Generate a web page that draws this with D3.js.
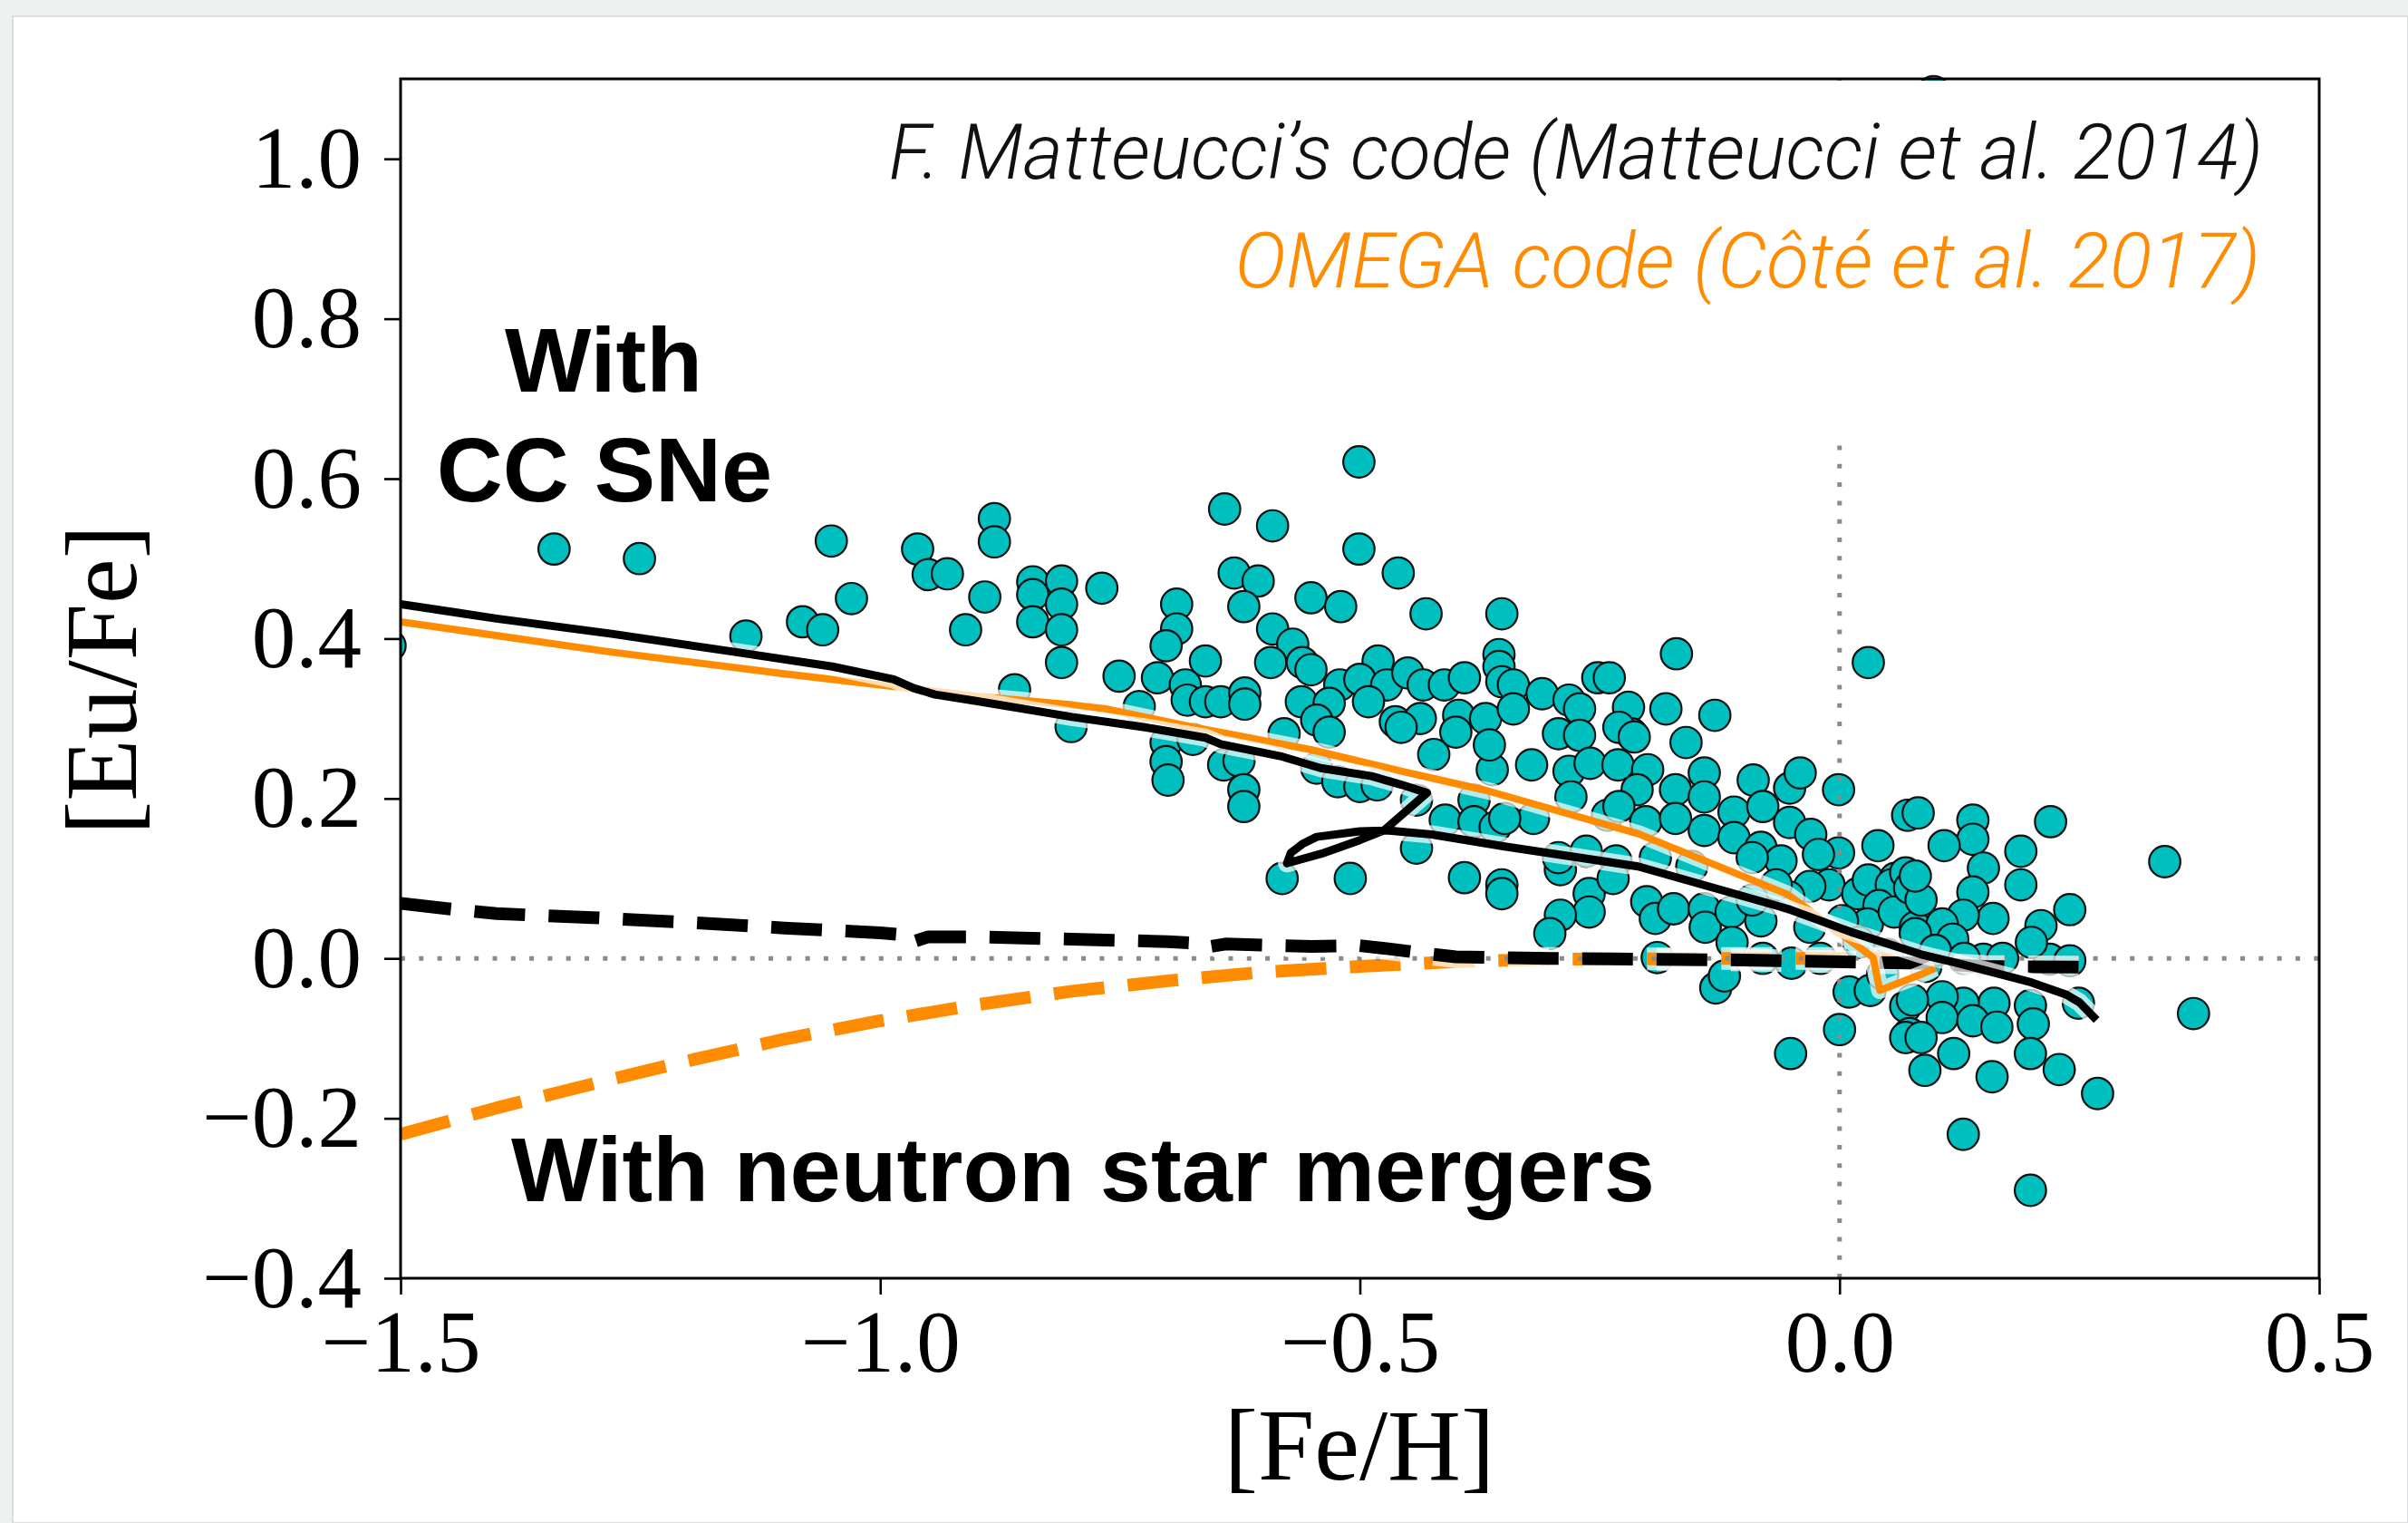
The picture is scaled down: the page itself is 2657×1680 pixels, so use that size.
<!DOCTYPE html>
<html>
<head>
<meta charset="utf-8">
<script src="https://cdn.jsdelivr.net/npm/d3@7"></script>
<style>
  html, body { margin: 0; padding: 0; background: #eff1f1; }
  svg { display: block; }
</style>
</head>
<body>
<svg id="chart" width="2657" height="1680"></svg>
<script>
// axis ticks
const xTicks = [-1.5, -1.0, -0.5, 0.0, 0.5];
const yTicks = [-0.4, -0.2, 0.0, 0.2, 0.4, 0.6, 0.8, 1.0];

// observed stars, [Fe/H] and [Eu/Fe]
const stars = [
  [-1.511,0.391],[-1.340,0.512],[-1.251,0.500],[-1.140,0.403],[-1.081,0.421],[-1.060,0.411],
  [-1.051,0.522],[-1.030,0.450],[-0.961,0.512],[-0.950,0.480],[-0.930,0.481],[-0.911,0.411],
  [-0.881,0.550],[-0.881,0.521],[-0.891,0.452],[-0.860,0.336],[-0.841,0.471],[-0.841,0.455],
  [-0.841,0.421],[-0.811,0.472],[-0.811,0.443],[-0.811,0.411],[-0.811,0.370],[-0.801,0.290],
  [-0.769,0.463],
  [-0.501,0.621],[-0.641,0.562],[-0.591,0.541],[-0.501,0.512],[-0.460,0.482],[-0.691,0.443],
  [-0.691,0.412],[-0.702,0.391],[-0.631,0.482],[-0.606,0.472],[-0.621,0.440],[-0.551,0.451],
  [-0.520,0.440],[-0.431,0.431],[-0.352,0.431],[-0.591,0.412],[-0.570,0.393],[-0.593,0.370],
  [-0.560,0.370],[-0.551,0.361],[-0.661,0.372],[-0.751,0.353],[-0.711,0.351],[-0.682,0.342],
  [-0.680,0.323],[-0.661,0.321],[-0.645,0.321],[-0.620,0.332],[-0.620,0.318],[-0.730,0.315],
  [-0.481,0.372],[-0.521,0.342],[-0.500,0.349],[-0.472,0.342],[-0.450,0.357],[-0.434,0.342],
  [-0.412,0.342],[-0.391,0.351],[-0.355,0.380],[-0.355,0.365],[-0.352,0.346],[-0.561,0.321],
  [-0.532,0.319],[-0.491,0.321],[-0.463,0.296],[-0.437,0.300],[-0.397,0.304],[-0.369,0.300],
  [-0.545,0.298],
  [-0.340,0.342],[-0.340,0.312],[-0.310,0.331],[-0.282,0.323],[-0.271,0.312],[-0.252,0.351],
  [-0.240,0.351],[-0.220,0.314],[-0.181,0.312],[-0.170,0.381],[-0.130,0.304],[0.030,0.370],
  [-0.702,0.270],[-0.702,0.246],[-0.700,0.223],[-0.674,0.274],[-0.642,0.242],[-0.626,0.247],
  [-0.621,0.211],[-0.621,0.190],[-0.579,0.281],[-0.532,0.283],[-0.545,0.238],[-0.523,0.221],
  [-0.500,0.215],[-0.482,0.217],[-0.441,0.198],[-0.457,0.289],[-0.423,0.255],[-0.400,0.283],
  [-0.362,0.236],[-0.381,0.198],[-0.411,0.173],[-0.381,0.171],[-0.359,0.164],[-0.441,0.138],
  [-0.581,0.100],[-0.510,0.100],[-0.391,0.101],[-0.352,0.092],[-0.352,0.081],
  [-0.293,0.281],[-0.271,0.279],[-0.321,0.242],[-0.365,0.267],[-0.282,0.234],[-0.280,0.202],
  [-0.260,0.244],[-0.231,0.242],[-0.217,0.281],[-0.200,0.236],[-0.211,0.211],[-0.171,0.211],
  [-0.160,0.270],[-0.141,0.232],[-0.141,0.202],[-0.141,0.160],[-0.110,0.183],[-0.110,0.151],
  [-0.090,0.223],[-0.080,0.190],[-0.052,0.213],[-0.041,0.232],[-0.052,0.170],[-0.030,0.155],
  [-0.001,0.211],[-0.001,0.132],[-0.022,0.130],[0.040,0.141],[0.071,0.179],[0.082,0.182],
  [-0.082,0.139],[-0.061,0.122],[-0.011,0.092],[-0.031,0.090],[0.019,0.081],[0.030,0.098],
  [0.058,0.100],[0.060,0.077],[-0.319,0.175],[-0.349,0.175],[-0.242,0.179],[-0.230,0.190],
  [-0.202,0.171],[-0.171,0.175],[-0.291,0.111],[-0.261,0.081],[-0.261,0.058],[-0.291,0.054],
  [-0.302,0.031],[-0.201,0.071],[-0.192,0.050],[-0.173,0.062],[-0.141,0.062],[-0.140,0.039],
  [-0.113,0.058],[-0.112,0.020],[-0.082,0.047],[-0.053,0.077],[-0.031,0.039],[-0.050,-0.006],
  [-0.190,0.001],[-0.129,-0.037],[-0.120,-0.022],[0.010,-0.042],[0.032,-0.040],[0.069,-0.060],
  [0.054,0.092],[0.069,0.107],[0.041,0.066],[-0.230,0.289],[-0.214,0.277],[-0.293,0.126],
  [-0.264,0.134],[-0.233,0.122],[-0.192,0.126],[-0.154,0.115],[-0.091,0.126],[-0.066,0.092],
  [-0.091,0.073],[-0.236,0.100],[0.029,0.043],[0.003,0.047],[0.057,0.058],[0.079,0.039],
  [0.139,0.173],[0.139,0.149],[0.109,0.141],[0.220,0.171],[0.189,0.134],[0.189,0.092],
  [0.150,0.113],[0.139,0.083],[0.160,0.050],[0.129,0.054],[0.107,0.043],[0.118,0.024],
  [0.240,0.061],[0.210,0.041],[0.339,0.121],[0.369,-0.069],[0.079,0.031],[0.073,0.088],
  [0.150,-0.001],[0.219,-0.001],[0.240,-0.003],[0.249,-0.056],[0.199,-0.059],[0.161,-0.056],
  [0.129,-0.056],[0.107,-0.048],[0.076,-0.052],[0.107,-0.074],[0.139,-0.078],[0.164,-0.086],
  [0.202,-0.082],[0.073,-0.094],[0.085,0.073],[0.079,0.103],
  [-0.051,-0.119],[0.000,-0.089],[0.069,-0.099],[0.085,-0.099],[0.089,-0.140],[0.119,-0.119],
  [0.159,-0.148],[0.199,-0.119],[0.229,-0.139],[0.269,-0.169],[0.129,-0.220],[0.199,-0.290],
  [0.020,0.020],[0.050,0.005],[0.090,-0.010],[0.100,0.010],[0.045,-0.020],[0.200,0.020],
  [0.170,0.000],[0.130,0.000],[-0.020,0.000],[-0.080,0.000]
];
// one star sits right under the top spine, mostly hidden by the label box
const topStar = [0.098, 1.084];

// model tracks
const mattCC = [
  [-1.5,0.443],[-1.40,0.425],[-1.28,0.406],[-1.15,0.383],[-1.05,0.365],[-0.986,0.349],
  [-0.965,0.338],[-0.943,0.330],[-0.90,0.322],[-0.80,0.302],[-0.724,0.289],[-0.661,0.276],
  [-0.645,0.268],[-0.583,0.253],[-0.541,0.238],[-0.488,0.228],[-0.456,0.217],[-0.430,0.207],
  [-0.475,0.160],[-0.50,0.148],[-0.54,0.131],[-0.576,0.119],[-0.572,0.132],[-0.56,0.143],
  [-0.545,0.152],[-0.50,0.159],[-0.472,0.160],[-0.425,0.155],[-0.349,0.140],[-0.21,0.115],
  [-0.054,0.062],[0.012,0.033],[0.085,0.005],[0.123,-0.006],[0.20,-0.030],[0.236,-0.045],
  [0.250,-0.055],[0.268,-0.077]
];
const omegaCC = [
  [-1.5,0.421],[-1.28,0.383],[-1.10,0.356],[-0.986,0.340],[-0.90,0.328],[-0.80,0.317],
  [-0.765,0.312],[-0.677,0.290],[-0.551,0.261],[-0.456,0.234],[-0.368,0.210],[-0.21,0.156],
  [-0.054,0.080],[-0.038,0.066],[0.035,0.001],[0.042,-0.040],[0.085,-0.020],[0.10,-0.012]
];
const mattNSM = [
  [-1.5,0.069],[-1.45,0.062],[-1.40,0.056],[-1.30,0.051],[-1.20,0.045],[-1.10,0.038],
  [-1.00,0.032],[-0.98,0.030],[-0.97,0.019],[-0.95,0.027],[-0.90,0.027],[-0.80,0.024],
  [-0.70,0.021],[-0.67,0.019],[-0.66,0.014],[-0.64,0.018],[-0.55,0.015],[-0.50,0.016],
  [-0.47,0.012],[-0.43,0.006],[-0.40,0.002],[-0.30,0.000],[-0.10,-0.002],[0.085,-0.006],
  [0.15,-0.010],[0.255,-0.011]
];
const omegaNSM = [
  [-1.5,-0.220],[-1.4,-0.187],[-1.3,-0.157],[-1.2,-0.128],[-1.1,-0.101],[-1.0,-0.078],
  [-0.9,-0.058],[-0.8,-0.041],[-0.7,-0.028],[-0.6,-0.017],[-0.5,-0.010],[-0.4,-0.004],
  [-0.3,-0.001],[-0.1,0.0],[0.06,0.0]
];

const W = 2657, H = 1680;
const box = {left: 442, right: 2559, top: 87, bottom: 1410};
const teal = "#00bfbf", orange = "#ff8c00";

const svg = d3.select("#chart");

// slide frame
svg.append("rect").attr("width", W).attr("height", H).attr("fill", "#eff1f1");
svg.append("rect").attr("x", 14).attr("y", 18).attr("width", W - 14).attr("height", H - 18)
  .attr("fill", "#fff").attr("stroke", "#dadddd").attr("stroke-width", 2);

const x = d3.scaleLinear().domain([-1.5, 0.5]).range([box.left, box.right]);
const y = d3.scaleLinear().domain([-0.4, 1.1]).range([box.bottom, box.top]);

svg.append("clipPath").attr("id", "plotclip")
  .append("rect").attr("x", box.left).attr("y", box.top)
  .attr("width", box.right - box.left).attr("height", box.bottom - box.top);

const plot = svg.append("g").attr("clip-path", "url(#plotclip)");

plot.selectAll("circle.star")
  .data(stars)
  .enter().append("circle")
  .attr("class", "star")
  .attr("cx", d => x(d[0]))
  .attr("cy", d => y(d[1]))
  .attr("r", 17.3)
  .attr("fill", teal)
  .attr("stroke", "#111")
  .attr("stroke-width", 2.2);

const line = d3.line().x(d => x(d[0])).y(d => y(d[1]));

function track(data, color, width, dash) {
  plot.append("path").attr("d", line(data))
    .attr("fill", "none").attr("stroke", "#fff").attr("stroke-opacity", 0.7)
    .attr("stroke-width", width + 11).attr("stroke-linejoin", "round")
    .attr("stroke-dasharray", dash || null);
  plot.append("path").attr("d", line(data))
    .attr("fill", "none").attr("stroke", color)
    .attr("stroke-width", width).attr("stroke-linejoin", "round")
    .attr("stroke-dasharray", dash || null);
}

track(omegaNSM, orange, 14, "56 26");

// dotted reference lines at zero
plot.append("line")
  .attr("x1", box.left).attr("x2", box.right).attr("y1", y(0)).attr("y2", y(0))
  .attr("stroke", "#8a8a8a").attr("stroke-width", 5).attr("stroke-dasharray", "5 15.3");
plot.append("line")
  .attr("x1", x(0)).attr("x2", x(0)).attr("y1", box.bottom).attr("y2", box.top - 6)
  .attr("stroke", "#8a8a8a").attr("stroke-width", 5).attr("stroke-dasharray", "5 15.3");

track(mattNSM, "#000", 14, "56 26");
track(omegaCC, orange, 8);
track(mattCC, "#000", 9);

// partly hidden star at the top edge, then the white label box over the top area
svg.append("circle")
  .attr("cx", x(topStar[0])).attr("cy", y(topStar[1])).attr("r", 17.3)
  .attr("fill", teal).attr("stroke", "#111").attr("stroke-width", 2.2);
svg.append("rect")
  .attr("x", 950).attr("y", box.top + 2)
  .attr("width", box.right - 2 - 950).attr("height", y(0.645) - box.top - 2)
  .attr("fill", "#fff");

// frame
svg.append("rect")
  .attr("x", box.left).attr("y", box.top)
  .attr("width", box.right - box.left).attr("height", box.bottom - box.top)
  .attr("fill", "none").attr("stroke", "#000").attr("stroke-width", 3);

const fmt = d3.format(".1f");
const serif = "'Liberation Serif', 'Times New Roman', serif";

const xAxis = svg.append("g")
  .attr("transform", `translate(0,${box.bottom})`)
  .call(d3.axisBottom(x).tickValues(xTicks).tickFormat(fmt).tickSize(18).tickPadding(16));
const yAxis = svg.append("g")
  .attr("transform", `translate(${box.left},0)`)
  .call(d3.axisLeft(y).tickValues(yTicks).tickFormat(fmt).tickSize(18).tickPadding(25));

[xAxis, yAxis].forEach(g => {
  g.select(".domain").remove();
  g.selectAll(".tick line").attr("stroke", "#000").attr("stroke-width", 2.6);
  g.selectAll(".tick text")
    .attr("fill", "#000")
    .style("font-family", serif)
    .style("font-size", "97px");
});

// axis titles
svg.append("text")
  .attr("x", 1500).attr("y", 1632)
  .attr("text-anchor", "middle")
  .style("font-family", serif).style("font-size", "112px")
  .text("[Fe/H]");
svg.append("text")
  .attr("transform", "translate(150,750) rotate(-90)")
  .attr("text-anchor", "middle")
  .style("font-family", serif).style("font-size", "112px")
  .text("[Eu/Fe]");

// model labels
const light = "Roboto, 'Open Sans', sans-serif";
svg.append("text")
  .attr("x", 2497).attr("y", 197).attr("text-anchor", "end")
  .style("font-family", light).style("font-weight", 300).style("font-style", "italic")
  .style("font-size", "85px").attr("fill", "#111")
  .text("F. Matteucci\u2019s code (Matteucci et al. 2014)");
svg.append("text")
  .attr("x", 2494).attr("y", 317).attr("text-anchor", "end")
  .style("font-family", light).style("font-weight", 300).style("font-style", "italic")
  .style("font-size", "86px").attr("fill", orange)
  .text("OMEGA code (C\u00f4t\u00e9 et al. 2017)");

const bold = "'Liberation Sans', Arial, sans-serif";
[["With", 666, 432, "middle"], ["CC SNe", 667, 553, "middle"],
 ["With neutron star mergers", 564, 1325, "start"]].forEach(t => {
  svg.append("text")
    .attr("x", t[1]).attr("y", t[2]).attr("text-anchor", t[3])
    .style("font-family", bold).style("font-weight", 700).style("font-size", "101px")
    .attr("fill", "#000")
    .text(t[0]);
});
</script>
</body>
</html>
